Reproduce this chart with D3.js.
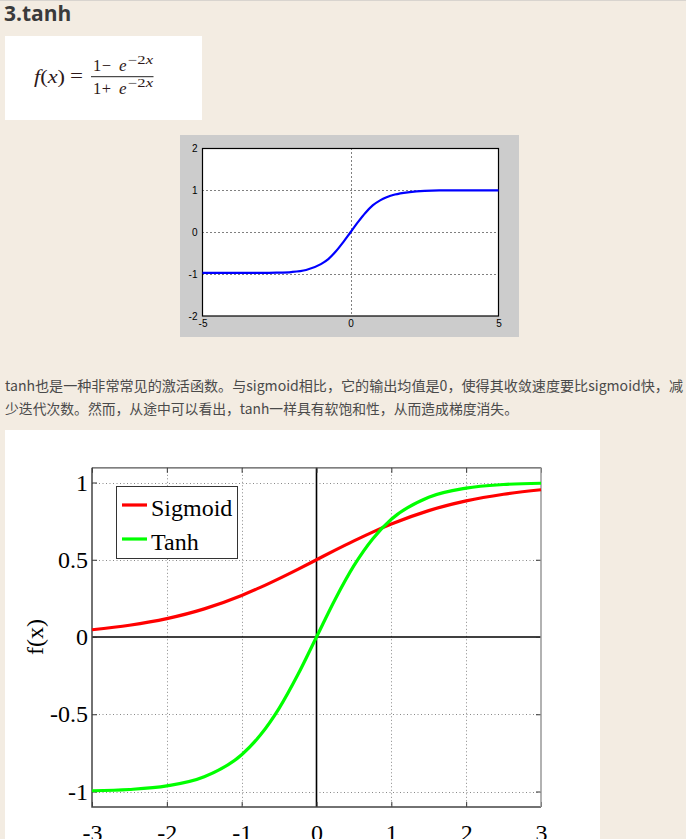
<!DOCTYPE html>
<html><head><meta charset="utf-8">
<script src="https://cdn.jsdelivr.net/npm/d3@7"></script>
<style>
html,body{margin:0;padding:0;background:#f3ece2;}
svg{display:block;}
</style></head>
<body>
<svg id="page" width="686" height="839"></svg>
<script>
// ---- data ----
const headingText = "3.tanh";
const paragraphLines = [
  "tanh也是一种非常常见的激活函数。与sigmoid相比，它的输出均值是0，使得其收敛速度要比sigmoid快，减",
  "少迭代次数。然而，从途中可以看出，tanh一样具有软饱和性，从而造成梯度消失。"
];
// small chart (tanh on [-5,5])
const smallX = [-5,-4,-3,-2.5,-2,-1.5,-1,-0.75,-0.5,-0.25,0,0.25,0.5,0.75,1,1.5,2,2.5,3,4,5];
const smallY = [-0.97,-0.97,-0.97,-0.965,-0.95,-0.9,-0.76,-0.64,-0.46,-0.24,0,0.24,0.46,0.64,0.76,0.9,0.96,0.99,1,1,1];
const smallXTicks = [-5,0,5];
const smallYTicks = [-2,-1,0,1,2];
// big chart
const bigX = [-3,-2.5,-2,-1.5,-1,-0.75,-0.5,-0.25,0,0.25,0.5,0.75,1,1.5,2,2.5,3];
const sigmoidY = [0.047,0.076,0.119,0.182,0.269,0.321,0.378,0.438,0.5,0.562,0.622,0.679,0.731,0.818,0.881,0.924,0.953];
const tanhY = [-0.995,-0.987,-0.964,-0.905,-0.762,-0.635,-0.462,-0.245,0,0.245,0.462,0.635,0.762,0.905,0.964,0.987,0.995];
const bigXTicks = [-3,-2,-1,0,1,2,3];
const bigYTicks = [-1,-0.5,0,0.5,1];
const seriesNames = ["Sigmoid","Tanh"];
const seriesColors = ["#ff0000","#00ff00"];

const svg = d3.select("#page");
svg.append("line").attr("x1",0).attr("x2",686).attr("y1",0.5).attr("y2",0.5).attr("stroke","#d8d4cf");

// heading
svg.append("text").attr("x",4).attr("y",21).text(headingText)
  .attr("font-family","'Open Sans', sans-serif").attr("font-weight","bold")
  .attr("font-size",21).attr("fill","#3a3a3a");

// formula box
svg.append("rect").attr("x",5).attr("y",36).attr("width",197).attr("height",84).attr("fill","#fff");
const fg = svg.append("g").attr("font-family","'Liberation Serif', serif").attr("fill","#2e1818");
const fx = fg.append("text").attr("x",34).attr("y",83).attr("font-size",19)
  .attr("textLength",31).attr("lengthAdjust","spacingAndGlyphs");
fx.append("tspan").attr("font-style","italic").text("f");
fx.append("tspan").text("(");
fx.append("tspan").attr("font-style","italic").text("x");
fx.append("tspan").text(")");
fg.append("text").attr("x",70).attr("y",82).attr("font-size",19).attr("textLength",13).attr("lengthAdjust","spacingAndGlyphs").text("=");
function fracPart(y, sign){
  fg.append("text").attr("x",93).attr("y",y).attr("font-size",16.5).text("1");
  fg.append("text").attr("x",106.5).attr("y",y).attr("font-size",16.5).attr("text-anchor","middle").text(sign);
  fg.append("text").attr("x",119).attr("y",y).attr("font-size",17).attr("font-style","italic").text("e");
  const s = fg.append("text").attr("x",128).attr("y",y-7).attr("font-size",12).attr("textLength",25).attr("lengthAdjust","spacingAndGlyphs");
  s.append("tspan").text("−2");
  s.append("tspan").attr("font-style","italic").text("x");
}
fracPart(71,"−");
fracPart(94,"+");
fg.append("line").attr("x1",91).attr("x2",153.5).attr("y1",76.7).attr("y2",76.7).attr("stroke","#222").attr("stroke-width",1);

// small chart
svg.append("rect").attr("x",180).attr("y",135).attr("width",339).attr("height",202).attr("fill","#cccccc");
const sx = d3.scaleLinear().domain([-5,5]).range([202.5,498.5]);
const sy = d3.scaleLinear().domain([-2,2]).range([316,148.5]);
const sg = svg.append("g");
sg.append("rect").attr("x",sx(-5)).attr("y",sy(2)).attr("width",sx(5)-sx(-5)).attr("height",sy(-2)-sy(2)).attr("fill","#fff");
sg.append("g").selectAll("line").data([-1,0,1]).join("line")
  .attr("x1",sx(-5)).attr("x2",sx(5)).attr("y1",d=>Math.round(sy(d))+0.5).attr("y2",d=>Math.round(sy(d))+0.5)
  .attr("stroke","#000").attr("stroke-dasharray","1,3");
sg.append("line").attr("x1",Math.round(sx(0))+0.5).attr("x2",Math.round(sx(0))+0.5).attr("y1",sy(2)).attr("y2",sy(-2))
  .attr("stroke","#000").attr("stroke-dasharray","1,3");
sg.append("rect").attr("x",sx(-5)).attr("y",sy(2)).attr("width",sx(5)-sx(-5)).attr("height",sy(-2)-sy(2))
  .attr("fill","none").attr("stroke","#000").attr("stroke-width",1.2);
sg.append("path").datum(smallX.map((x,i)=>[x,smallY[i]]))
  .attr("d",d3.line().x(d=>sx(d[0])).y(d=>sy(d[1])).curve(d3.curveMonotoneX))
  .attr("fill","none").attr("stroke","#0000ff").attr("stroke-width",2.2);
const sxa = d3.axisBottom(sx).tickValues(smallXTicks).tickSize(0).tickPadding(4).tickFormat(d=>String(d));
sg.append("g").attr("transform",`translate(0,${sy(-2)})`).call(sxa)
  .call(g=>{g.select(".domain").remove();g.selectAll("text").attr("font-family","'Liberation Sans', Arial, sans-serif").attr("font-size",10).attr("fill","#000");});
const sya = d3.axisLeft(sy).tickValues(smallYTicks).tickSize(0).tickPadding(5).tickFormat(d=>String(d));
sg.append("g").attr("transform",`translate(${sx(-5)},0)`).call(sya)
  .call(g=>{g.select(".domain").remove();g.selectAll("text").attr("font-family","'Liberation Sans', Arial, sans-serif").attr("font-size",10).attr("fill","#000");});

// paragraph
const paraWidths = [678, 513];
const pg = svg.append("g").attr("font-family","'Noto Sans CJK SC', sans-serif").attr("font-size",14).attr("fill","#4a4a4a");
pg.selectAll("text").data(paragraphLines).join("text")
  .attr("x",5).attr("y",(d,i)=>391+i*23)
  .attr("textLength",(d,i)=>paraWidths[i]).attr("lengthAdjust","spacingAndGlyphs").text(d=>d);

// big chart
svg.append("rect").attr("x",5).attr("y",430).attr("width",595).attr("height",420).attr("fill","#fff");
const bx = d3.scaleLinear().domain([-3,3]).range([92,541]);
const by = d3.scaleLinear().domain([-1,1]).range([791.5,482.5]);
const plotTop = by(1.095), plotBottom = by(-1.1);
const bg = svg.append("g");
// grid
bg.append("g").selectAll("line").data(bigXTicks.filter(d=>d!==0&&d!==-3&&d!==3)).join("line")
  .attr("x1",d=>Math.round(bx(d))+0.5).attr("x2",d=>Math.round(bx(d))+0.5).attr("y1",plotTop).attr("y2",plotBottom)
  .attr("stroke","#888").attr("stroke-dasharray","1,2.5");
bg.append("g").selectAll("line").data(bigYTicks.filter(d=>d!==0)).join("line")
  .attr("x1",bx(-3)).attr("x2",bx(3)).attr("y1",d=>Math.round(by(d))+0.5).attr("y2",d=>Math.round(by(d))+0.5)
  .attr("stroke","#888").attr("stroke-dasharray","1,2.5");
// zero lines
bg.append("line").attr("x1",bx(-3)).attr("x2",bx(3)).attr("y1",by(0)).attr("y2",by(0)).attr("stroke","#000").attr("stroke-width",1.6);
bg.append("line").attr("x1",bx(0)).attr("x2",bx(0)).attr("y1",plotTop).attr("y2",plotBottom).attr("stroke","#000").attr("stroke-width",1.6);
// axes via d3 axis (inward ticks)
const fontSerif = "'Liberation Serif', 'Times New Roman', serif";
bg.append("g").attr("transform",`translate(0,${plotBottom})`)
  .call(d3.axisBottom(bx).tickValues(bigXTicks).tickSizeInner(-5).tickSizeOuter(0).tickPadding(17).tickFormat(d=>String(d)))
  .call(g=>{g.select(".domain").remove();g.selectAll("line").attr("stroke","#333");
    g.selectAll("text").attr("font-family",fontSerif).attr("font-size",24).attr("fill","#000");});
bg.append("g").attr("transform",`translate(0,${plotTop})`)
  .call(d3.axisTop(bx).tickValues(bigXTicks).tickSizeInner(-5).tickSizeOuter(0).tickFormat(""))
  .call(g=>{g.select(".domain").remove();g.selectAll("line").attr("stroke","#333");});
bg.append("g").attr("transform",`translate(${bx(-3)},0)`)
  .call(d3.axisLeft(by).tickValues(bigYTicks).tickSizeInner(-5).tickSizeOuter(0).tickPadding(4).tickFormat(d=>String(d)))
  .call(g=>{g.select(".domain").remove();g.selectAll("line").attr("stroke","#333");
    g.selectAll("text").attr("font-family",fontSerif).attr("font-size",24).attr("fill","#000");});
bg.append("g").attr("transform",`translate(${bx(3)},0)`)
  .call(d3.axisRight(by).tickValues(bigYTicks).tickSizeInner(-5).tickSizeOuter(0).tickFormat(""))
  .call(g=>{g.select(".domain").remove();g.selectAll("line").attr("stroke","#333");});
// frame
bg.append("path").attr("d",`M${bx(-3)},${plotTop}H${bx(3)}`).attr("stroke","#555").attr("stroke-width",1.3).attr("fill","none");
bg.append("path").attr("d",`M${bx(-3)},${plotTop}V${plotBottom}H${bx(3)}`).attr("stroke","#444").attr("stroke-width",1.5).attr("fill","none");
bg.append("path").attr("d",`M${bx(3)},${plotTop}V${plotBottom}`).attr("stroke","#999").attr("stroke-width",1.5).attr("fill","none");
// curves
const bline = d3.line().x(d=>bx(d[0])).y(d=>by(d[1])).curve(d3.curveMonotoneX);
[sigmoidY, tanhY].forEach((ys,k)=>{
  bg.append("path").datum(bigX.map((x,i)=>[x,ys[i]])).attr("d",bline)
    .attr("fill","none").attr("stroke",seriesColors[k]).attr("stroke-width",3.2);
});
// y label
bg.append("text").attr("transform","translate(43,637) rotate(-90)").attr("text-anchor","middle")
  .attr("font-family",fontSerif).attr("font-size",24).attr("fill","#000").text("f(x)");
// legend
const lg = bg.append("g");
lg.append("rect").attr("x",116.5).attr("y",486.5).attr("width",121).attr("height",72).attr("fill","#fff").attr("stroke","#333").attr("stroke-width",1);
seriesNames.forEach((n,i)=>{
  const y = 505 + i*34;
  lg.append("line").attr("x1",122).attr("x2",147).attr("y1",y).attr("y2",y).attr("stroke",seriesColors[i]).attr("stroke-width",3.2);
  lg.append("text").attr("x",151).attr("y",y+11).attr("font-family",fontSerif).attr("font-size",24).attr("fill","#000").text(n);
});
</script>
</body></html>
